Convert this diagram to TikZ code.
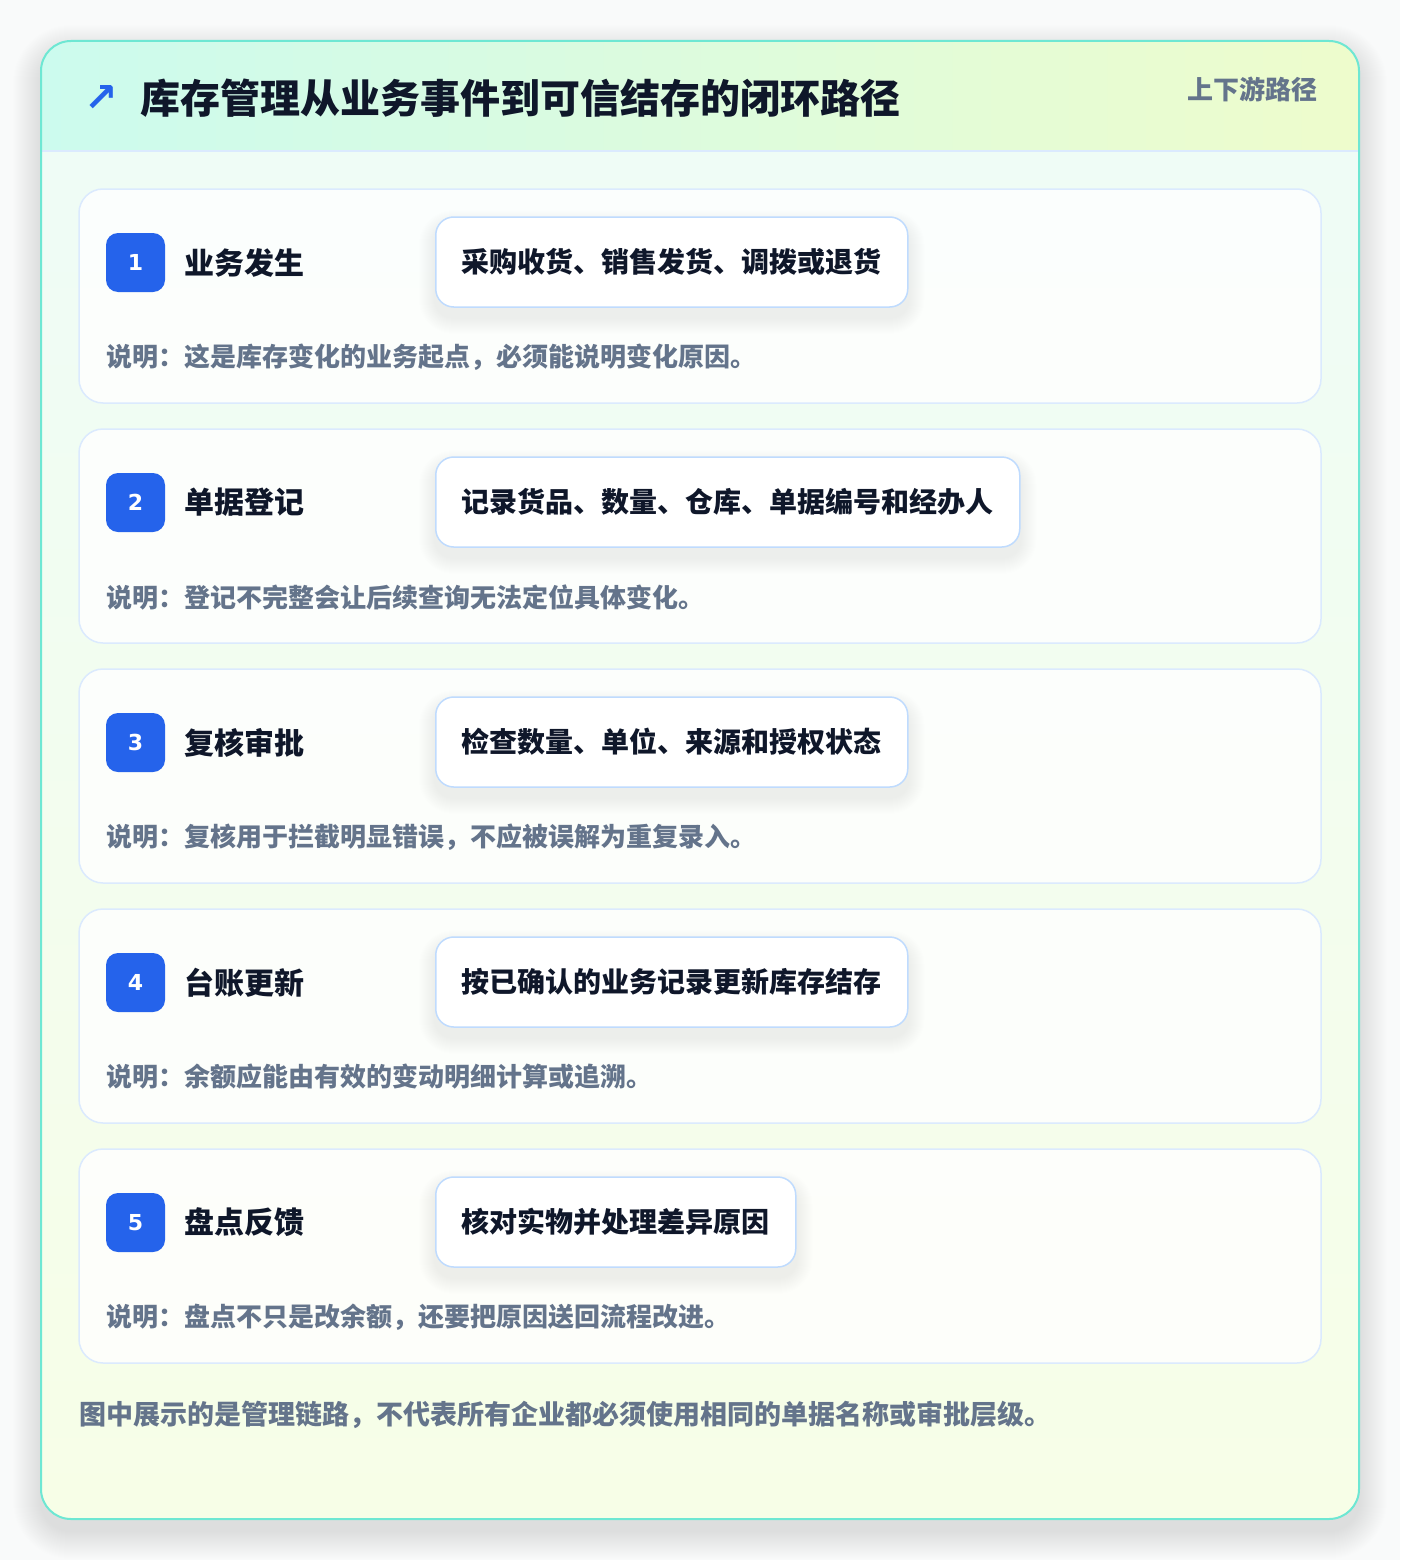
\documentclass[tikz,border=0pt]{standalone}
\usepackage{fontspec}
\newfontfamily\cjk{Noto Sans CJK SC}
\newfontfamily\symb{DejaVu Sans}
\usepackage{xcolor}
\usetikzlibrary{positioning}
\definecolor{pagebg}{HTML}{F9FAFA}
\definecolor{frame}{HTML}{6EE7D3}
\definecolor{mint}{HTML}{EEFCF7}
\definecolor{lime}{HTML}{F7FEE7}
\definecolor{hdrleft}{HTML}{CCFBEE}
\definecolor{hdrright}{HTML}{EEFCCC}
\definecolor{cardline}{HTML}{DBEAFE}
\definecolor{pillline}{HTML}{BFDBFE}
\definecolor{accent}{HTML}{2563EB}
\definecolor{ink}{HTML}{0F172A}
\definecolor{muted}{HTML}{64748B}
\pgfdeclarelayer{base}
\pgfdeclarelayer{haze}
\pgfsetlayers{base,haze,main}

\begin{document}
\begin{tikzpicture}[x=1pt, y=-1pt, font=\cjk\bfseries,
    card/.style={draw=cardline, line width=1.5pt, fill=white, fill opacity=0.8,
        rounded corners=24pt},
    badge/.style={fill=accent, text=white, rounded corners=12pt, minimum size=59pt,
        inner sep=0pt, font=\symb\bfseries\fontsize{22}{24}\selectfont},
    steptitle/.style={text=ink, inner sep=0pt, anchor=west,
        font=\cjk\bfseries\fontsize{30}{32}\selectfont},
    pill/.style={draw=pillline, line width=1.5pt, fill=white, rounded corners=18pt,
        minimum height=90pt, inner xsep=26pt, inner ysep=0pt, anchor=west, text=ink,
        font=\cjk\bfseries\fontsize{28}{30}\selectfont},
    haze/.style={fill=black, opacity=#1},
    remark/.style={text=muted, inner sep=0pt, anchor=west,
        font=\cjk\bfseries\fontsize{26}{28}\selectfont}]

    \useasboundingbox (0,0) rectangle (1400,1560);
    \begin{pgfonlayer}{base}
    \fill[pagebg] (0,0) rectangle (1400,1560);
    \begin{scope}
        \clip (0,0) rectangle (1400,1560);
        \foreach \k in {1,...,28}{
            \pgfmathsetmacro\rr{30+\k}
            \fill[haze=0.002, rounded corners=\rr pt]
                ({41-\k},{41-\k+12}) rectangle ({1359+\k},{1519+\k+12});
        }
    \end{scope}
    \shade[top color=mint, bottom color=lime, rounded corners=30pt]
        (41,41) rectangle (1359,1519);
    \begin{scope}
        \clip[rounded corners=30pt] (41,41) rectangle (1359,1519);
        \shade[left color=hdrleft, right color=hdrright] (41,41) rectangle (1359,151);
        \draw[cardline, line width=1.5pt] (41,151) -- (1359,151);
    \end{scope}
    \draw[frame, line width=2pt, rounded corners=30pt] (41,41) rectangle (1359,1519);
    \end{pgfonlayer}

    \node[text=accent, inner sep=0pt, font=\symb\bfseries\fontsize{40}{42}\selectfont]
        (icon) at (101,99) {↗};
    \node[anchor=west, inner sep=0pt, text=ink,
        font=\cjk\bfseries\fontsize{40}{42}\selectfont]
        (title) at (140,98) {库存管理从业务事件到可信结存的闭环路径};
    \node[anchor=east, inner sep=0pt, text=muted,
        font=\cjk\bfseries\fontsize{26}{28}\selectfont]
        (tag) at (1318,89) {上下游路径};

    \foreach \n/\ttl/\tsk/\dsc in {
        1/业务发生/采购收货、销售发货、调拨或退货/说明：这是库存变化的业务起点，必须能说明变化原因。,
        2/单据登记/记录货品、数量、仓库、单据编号和经办人/说明：登记不完整会让后续查询无法定位具体变化。,
        3/复核审批/检查数量、单位、来源和授权状态/说明：复核用于拦截明显错误，不应被误解为重复录入。,
        4/台账更新/按已确认的业务记录更新库存结存/说明：余额应能由有效的变动明细计算或追溯。,
        5/盘点反馈/核对实物并处理差异原因/说明：盘点不只是改余额，还要把原因送回流程改进。}
    {
        \pgfmathsetmacro\Y{189+240*(\n-1)}
        \begin{pgfonlayer}{base}
        \draw[card] (79,\Y) rectangle (1321,{\Y+214});
        \end{pgfonlayer}
        \node[badge] (badge\n) at (135.5,{\Y+73.5}) {\n};
        \node[steptitle, right=19pt of badge\n] (stage\n) {\ttl};
        \node[pill] (task\n) at (435,{\Y+73}) {\tsk};
        \node[remark] (remark\n) at (106,{\Y+168}) {\dsc};
        \begin{pgfonlayer}{haze}
        \foreach \k in {1,...,16}{
            \pgfmathsetmacro\rr{18+\k}
            \fill[haze=0.0022, rounded corners=\rr pt]
                ([shift={(-\k,{10-\k})}]task\n.north west)
                rectangle ([shift={(\k,{10+\k})}]task\n.south east);
        }
        \end{pgfonlayer}
    }

    \node[anchor=west, inner sep=0pt, text=muted,
        font=\cjk\bfseries\fontsize{27}{30}\selectfont]
        (note) at (79,1415) {图中展示的是管理链路，不代表所有企业都必须使用相同的单据名称或审批层级。};
\end{tikzpicture}
\end{document}
